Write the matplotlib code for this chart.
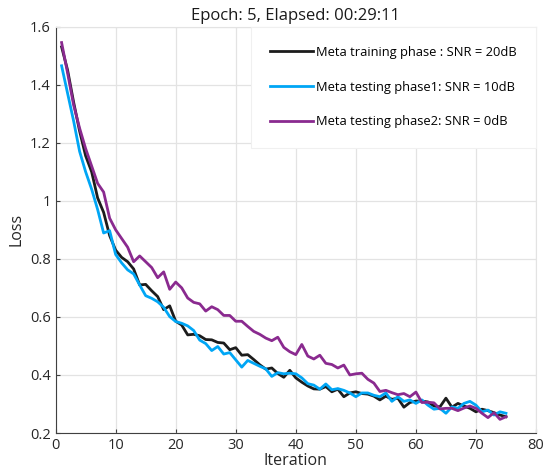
import numpy as np
import matplotlib
matplotlib.use("Agg")
import matplotlib.pyplot as plt
from matplotlib.ticker import FormatStrFormatter

plt.rcParams['font.family'] = ['Open Sans', 'DejaVu Sans']

# loss per iteration for each phase
iterations = np.arange(1, 76)

loss_train = [
    1.53, 1.45, 1.34, 1.24, 1.155, 1.10, 1.01, 0.96, 0.88, 0.83,
    0.805, 0.79, 0.765, 0.71, 0.712, 0.69, 0.67, 0.625, 0.638, 0.585,
    0.572, 0.538, 0.54, 0.535, 0.522, 0.521, 0.512, 0.51, 0.487, 0.494,
    0.468, 0.47, 0.453, 0.435, 0.42, 0.424, 0.405, 0.392, 0.416, 0.39,
    0.375, 0.362, 0.352, 0.351, 0.36, 0.342, 0.351, 0.325, 0.338, 0.342,
    0.336, 0.334, 0.327, 0.314, 0.327, 0.316, 0.32, 0.289, 0.305, 0.31,
    0.31, 0.307, 0.293, 0.29, 0.32, 0.289, 0.302, 0.293, 0.285, 0.273,
    0.282, 0.277, 0.27, 0.262, 0.256,
]

loss_test1 = [
    1.465, 1.37, 1.275, 1.17, 1.10, 1.04, 0.97, 0.889, 0.897, 0.815,
    0.786, 0.762, 0.748, 0.71, 0.673, 0.664, 0.652, 0.633, 0.601, 0.584,
    0.578, 0.569, 0.553, 0.52, 0.508, 0.484, 0.498, 0.472, 0.477, 0.452,
    0.427, 0.45, 0.44, 0.43, 0.421, 0.395, 0.408, 0.404, 0.406, 0.404,
    0.39, 0.37, 0.365, 0.351, 0.369, 0.349, 0.353, 0.347, 0.338, 0.325,
    0.338, 0.338, 0.33, 0.325, 0.338, 0.309, 0.325, 0.309, 0.314, 0.302,
    0.314, 0.296, 0.282, 0.285, 0.268, 0.29, 0.285, 0.302, 0.309, 0.296,
    0.273, 0.279, 0.262, 0.273, 0.268,
]

loss_test2 = [
    1.545, 1.44, 1.33, 1.25, 1.18, 1.12, 1.06, 1.03, 0.94, 0.90,
    0.87, 0.84, 0.79, 0.81, 0.79, 0.77, 0.735, 0.755, 0.695, 0.72,
    0.70, 0.665, 0.65, 0.645, 0.62, 0.635, 0.625, 0.605, 0.605, 0.585,
    0.585, 0.567, 0.55, 0.54, 0.527, 0.518, 0.53, 0.495, 0.48, 0.47,
    0.505, 0.465, 0.455, 0.468, 0.44, 0.436, 0.424, 0.434, 0.40, 0.404,
    0.406, 0.385, 0.372, 0.343, 0.347, 0.339, 0.332, 0.336, 0.325, 0.341,
    0.305, 0.306, 0.304, 0.283, 0.285, 0.285, 0.277, 0.286, 0.293, 0.285,
    0.268, 0.253, 0.27, 0.247, 0.256,
]

labels = [
    'Meta training phase : SNR = 20dB',
    'Meta testing phase1: SNR = 10dB',
    'Meta testing phase2: SNR = 0dB',
]
colors = ['#1c1c1c', '#00a6f5', '#8a2a8f']

fig = plt.figure(figsize=(5.45, 4.75), dpi=100)
ax = fig.add_axes([0.102, 0.0884, 0.8815, 0.8556])

for y, lab, c in zip([loss_train, loss_test1, loss_test2], labels, colors):
    ax.plot(iterations, y, color=c, lw=2.0, label=lab)

ax.set_xlim(0, 80)
ax.set_ylim(0.2, 1.6)
ax.set_xticks(np.arange(0, 81, 10))
ax.set_yticks(np.arange(0.2, 1.61, 0.2))
ax.yaxis.set_major_formatter(FormatStrFormatter('%g'))
ax.grid(True, color='#e3e3e3', lw=0.9)
ax.set_axisbelow(True)

for side in ['top', 'right']:
    ax.spines[side].set_color('#e3e3e3')
for side in ['left', 'bottom']:
    ax.spines[side].set_color('#404040')
ax.tick_params(direction='in', length=3, colors='#404040', labelsize=10.5,
               labelcolor='#262626')

ax.set_xlabel('Iteration', fontsize=11.5, color='#262626', labelpad=0)
ax.set_ylabel('Loss', fontsize=11.5, color='#262626', labelpad=4)
ax.set_title('Epoch: 5, Elapsed: 00:29:11', fontsize=12, color='#1a1a1a', pad=5)

leg = ax.legend(loc='upper right', fontsize=9.3, frameon=True, fancybox=False,
                handlelength=3.3, handletextpad=0.25, labelspacing=1.68,
                borderpad=1.5, borderaxespad=0.0, framealpha=1.0)
leg.get_frame().set_edgecolor('#f0f0f0')
leg.get_frame().set_linewidth(0.8)

fig.savefig('out.png', dpi=100)
